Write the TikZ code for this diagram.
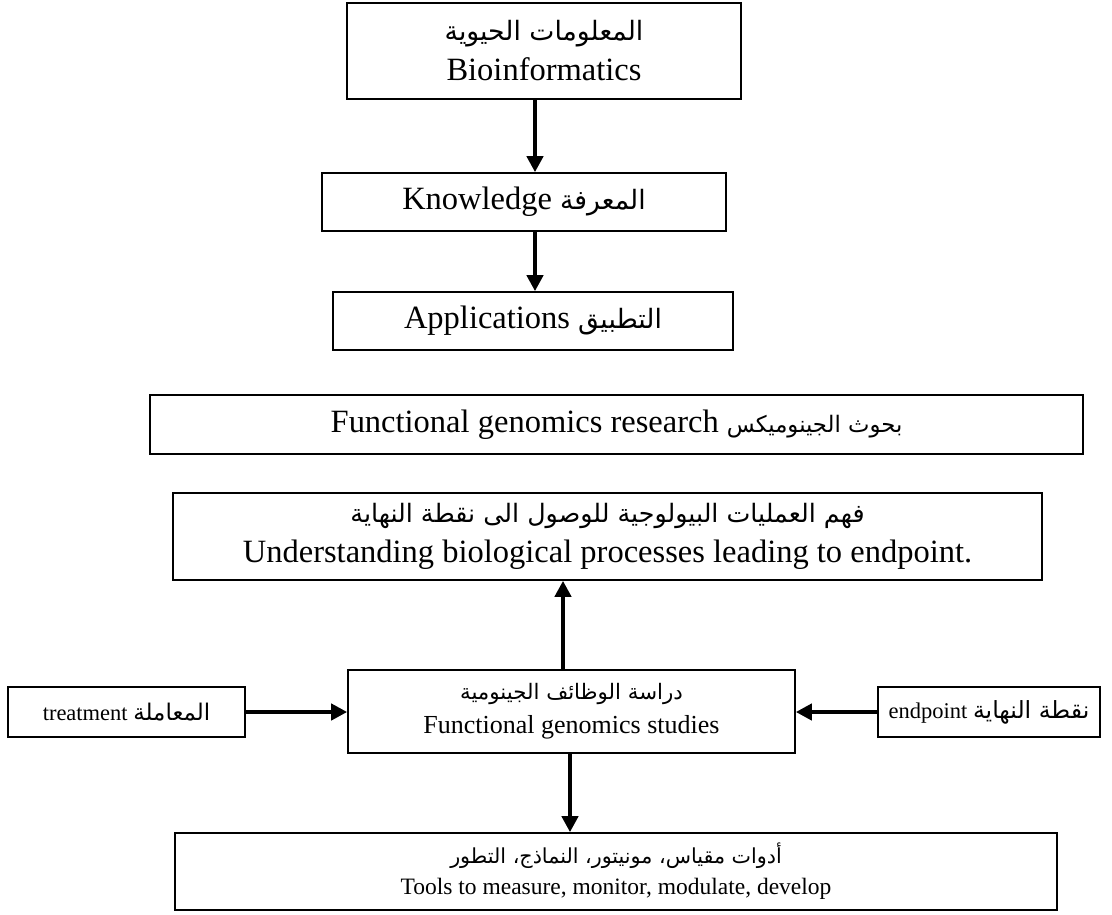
\documentclass[tikz,border=0pt]{standalone}
\usepackage{fontspec}
\setmainfont{Liberation Serif}
\newfontfamily\ar[Script=Arabic]{DejaVu Sans}
\TeXXeTstate=1
\usetikzlibrary{arrows.meta,calc}
\tikzset{
  box/.style={draw, line width=1.6pt, inner sep=0pt, align=center},
  big/.style={font=\fontsize{32.5}{40}\selectfont},
  mid/.style={font=\fontsize{26}{34}\selectfont},
  small/.style={font=\fontsize{22.5}{30}\selectfont},
  arr/.style={line width=4.5pt, -{Triangle[length=16pt,width=16pt]}},
}
% Arabic run, set right to left at a scale relative to the Latin text
\newcommand{\AR}[2][0.82]{{\ar\addfontfeature{Scale=#1}\beginR #2\endR}}
\begin{document}
\begin{tikzpicture}[x=1pt,y=-1pt]
  \useasboundingbox (0,0) rectangle (1112,914);
  % upper chain
  \node[box,big,minimum width=394pt,minimum height=96pt] (bio) at (544,51)
    {\AR{المعلومات الحيوية}\\Bioinformatics};
  \node[box,big,minimum width=404pt,minimum height=58pt] (know) at (524,202)
    {Knowledge \AR{المعرفة}};
  \node[box,big,minimum width=400pt,minimum height=58pt] (apps) at (533,321)
    {Applications \AR{التطبيق}};
  \coordinate (ax) at (535,0);
  \draw[arr] (bio.south -| ax) -- (know.north -| ax);
  \draw[arr] (know.south -| ax) -- (apps.north -| ax);
  % research and its aim
  \node[box,big,minimum width=933pt,minimum height=59pt] (res) at (616.5,424.5)
    {Functional genomics research \AR[0.7]{بحوث الجينوميكس}};
  \node[box,big,minimum width=869pt,minimum height=87pt] (under) at (607.5,536.5)
    {\AR[0.78]{فهم العمليات البيولوجية للوصول الى نقطة النهاية}\\Understanding biological processes leading to endpoint.};
  % studies with inputs and outputs
  \node[box,mid,minimum width=447pt,minimum height=83pt] (study) at (571.5,711.5)
    {\AR{دراسة الوظائف الجينومية}\\Functional genomics studies};
  \node[box,small,minimum width=237pt,minimum height=50pt] (treat) at (126.5,712)
    {treatment \AR[1.02]{المعاملة}};
  \node[box,small,minimum width=222pt,minimum height=50pt] (endp) at (989,712)
    {endpoint \AR[1.05]{نقطة النهاية}};
  \node[box,font=\fontsize{23.5}{31}\selectfont,minimum width=882pt,minimum height=77pt] (tools) at (616,871.5)
    {\AR[0.88]{أدوات مقياس، مونيتور، النماذج، التطور}\\Tools to measure, monitor, modulate, develop};
  \coordinate (ux) at (563,0);
  \coordinate (dx) at (570,0);
  \draw[arr] (study.north -| ux) -- (under.south -| ux);
  \draw[arr] (study.south -| dx) -- (tools.north -| dx);
  \draw[arr] (treat.east) -- (treat.east -| study.west);
  \draw[arr] (endp.west) -- (endp.west -| study.east);
\end{tikzpicture}
\end{document}
